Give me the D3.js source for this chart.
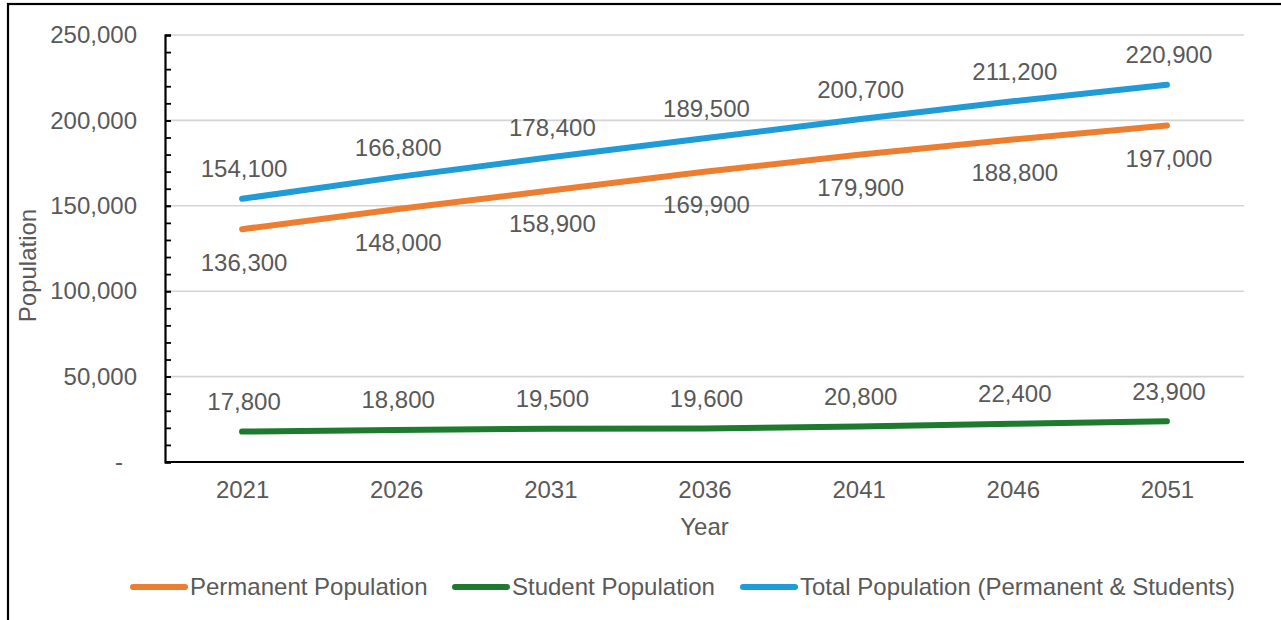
<!DOCTYPE html>
<html>
<head>
<meta charset="utf-8">
<script src="https://cdn.jsdelivr.net/npm/d3@7"></script>
<style>
  html, body { margin: 0; padding: 0; background: #fff; }
  svg { display: block; font-family: "Liberation Sans", Arial, sans-serif; }
</style>
</head>
<body>
<svg id="chart" width="1281" height="620"></svg>
<script>
// Population projections by census year
const years = ["2021", "2026", "2031", "2036", "2041", "2046", "2051"];
const permanent = [136300, 148000, 158900, 169900, 179900, 188800, 197000];
const students = [17800, 18800, 19500, 19600, 20800, 22400, 23900];
const total = [154100, 166800, 178400, 189500, 200700, 211200, 220900];
const yTicks = [0, 50000, 100000, 150000, 200000, 250000];

const series = [
  { name: "Permanent Population", values: permanent, color: "#ED7D31", labelPos: "below" },
  { name: "Student Population", values: students, color: "#1E7A2E", labelPos: "above" },
  { name: "Total Population (Permanent & Students)", values: total, color: "#1F9BD7", labelPos: "above" }
];

const W = 1281, H = 620;
const plot = { left: 165, right: 1244, top: 35, bottom: 462 };
const textColor = "#595959";
const fontSize = 24;

const svg = d3.select("#chart");

// Outer frame (left and top edges visible)
svg.append("rect")
  .attr("x", 8).attr("y", 4)
  .attr("width", W + 20).attr("height", H + 20)
  .attr("fill", "none").attr("stroke", "#000").attr("stroke-width", 2.2);

const x = d3.scalePoint().domain(years).range([plot.left, plot.right]).padding(0.5);
const y = d3.scaleLinear().domain([0, 250000]).range([plot.bottom, plot.top]);

// Horizontal gridlines
svg.append("g")
  .selectAll("line")
  .data(yTicks.filter(d => d > 0))
  .join("line")
  .attr("x1", plot.left).attr("x2", plot.right)
  .attr("y1", d => y(d)).attr("y2", d => y(d))
  .attr("stroke", "#d4d4d4").attr("stroke-width", 1.6);

// Minor ticks on the value axis (every 10,000)
svg.append("g")
  .attr("transform", `translate(${plot.left},0)`)
  .call(d3.axisLeft(y).tickValues(d3.range(0, 250001, 10000)).tickSize(-6).tickFormat(""))
  .call(g => g.select(".domain").remove())
  .call(g => g.selectAll("line").attr("stroke", "#000").attr("stroke-width", 1.8));

// Value axis with labels
const fmt = d3.format(",");
svg.append("g")
  .attr("transform", `translate(${plot.left},0)`)
  .call(d3.axisLeft(y).tickValues(yTicks).tickSize(-6).tickPadding(28)
    .tickFormat(d => d === 0 ? "-" : fmt(d)))
  .call(g => g.select(".domain").attr("stroke", "#000").attr("stroke-width", 2.2))
  .call(g => g.selectAll("line").attr("stroke", "#000").attr("stroke-width", 1.8))
  .call(g => g.selectAll("text")
    .attr("fill", textColor).attr("font-size", fontSize)
    .attr("font-family", "Liberation Sans, Arial, sans-serif")
    .attr("dx", d => d === 0 ? -14 : 0));

// Category axis
svg.append("g")
  .attr("transform", `translate(0,${plot.bottom})`)
  .call(d3.axisBottom(x).tickSize(0).tickPadding(19))
  .call(g => g.select(".domain").attr("d", `M${plot.left},0H${plot.right}`)
    .attr("stroke", "#000").attr("stroke-width", 2.2))
  .call(g => g.selectAll("text")
    .attr("fill", textColor).attr("font-size", fontSize)
    .attr("font-family", "Liberation Sans, Arial, sans-serif"));

// Axis titles
svg.append("text")
  .attr("x", (plot.left + plot.right) / 2).attr("y", 535)
  .attr("text-anchor", "middle").attr("fill", textColor).attr("font-size", fontSize)
  .text("Year");

svg.append("text")
  .attr("transform", `translate(36,${(plot.top + plot.bottom) / 2 + 17}) rotate(-90)`)
  .attr("text-anchor", "middle").attr("fill", textColor).attr("font-size", fontSize)
  .text("Population");

// Series lines
const line = d3.line().x((d, i) => x(years[i])).y(d => y(d));

svg.append("g")
  .selectAll("path")
  .data(series)
  .join("path")
  .attr("d", s => line(s.values))
  .attr("fill", "none")
  .attr("stroke", s => s.color)
  .attr("stroke-width", 6)
  .attr("stroke-linecap", "round")
  .attr("stroke-linejoin", "round");

// Data labels
series.forEach(s => {
  svg.append("g")
    .selectAll("text")
    .data(s.values)
    .join("text")
    .attr("x", (d, i) => x(years[i]) + 2)
    .attr("y", d => y(d) + (s.labelPos === "above" ? -30 : 33))
    .attr("dy", "0.35em")
    .attr("text-anchor", "middle")
    .attr("fill", textColor)
    .attr("font-size", fontSize)
    .text(d => fmt(d));
});

// Legend
const legendItems = [
  { s: series[0], x: 133 },
  { s: series[1], x: 455 },
  { s: series[2], x: 743 }
];
const legendY = 587;
const lg = svg.append("g");
legendItems.forEach(item => {
  lg.append("line")
    .attr("x1", item.x).attr("x2", item.x + 52)
    .attr("y1", legendY).attr("y2", legendY)
    .attr("stroke", item.s.color).attr("stroke-width", 6)
    .attr("stroke-linecap", "round");
  lg.append("text")
    .attr("x", item.x + 57).attr("y", legendY)
    .attr("dy", "0.35em")
    .attr("fill", textColor).attr("font-size", fontSize)
    .text(item.s.name);
});
</script>
</body>
</html>
